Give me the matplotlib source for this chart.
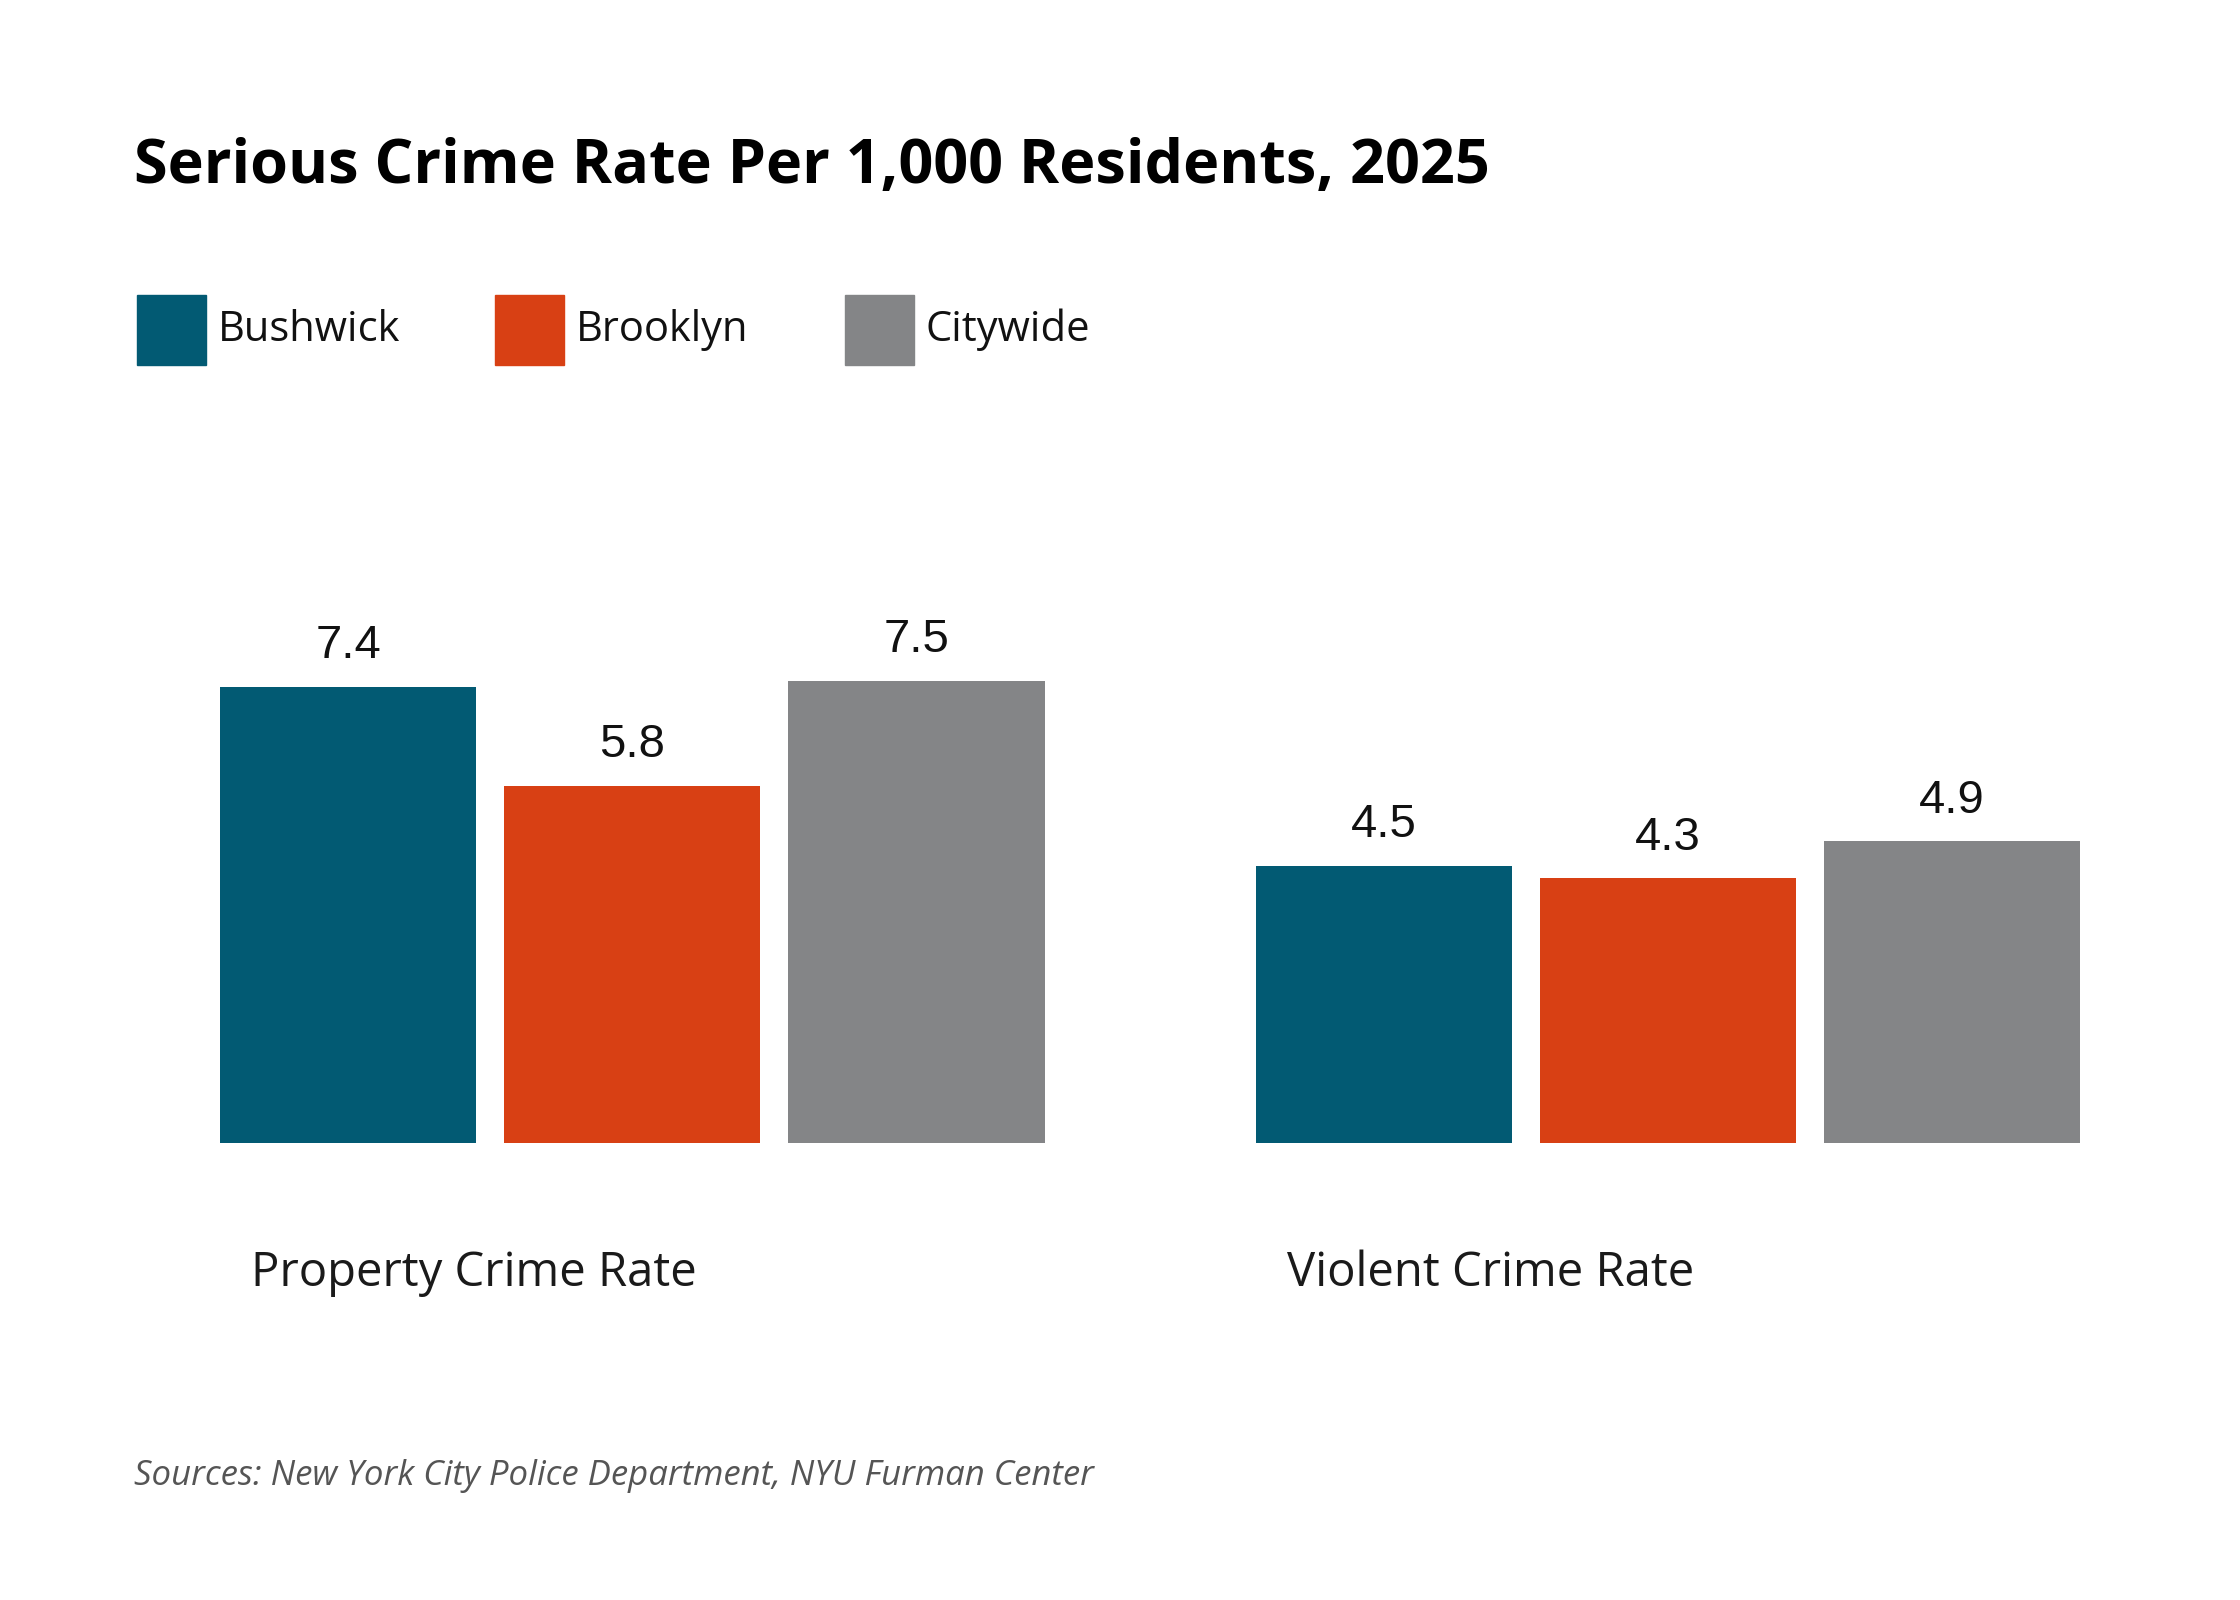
import matplotlib.pyplot as plt
from matplotlib.patches import Rectangle

groups = ["Property Crime Rate", "Violent Crime Rate"]
series = ["Bushwick", "Brooklyn", "Citywide"]
values = {
    "Bushwick": [7.4, 4.5],
    "Brooklyn": [5.8, 4.3],
    "Citywide": [7.5, 4.9],
}
labels = {
    "Bushwick": ["7.4", "4.5"],
    "Brooklyn": ["5.8", "4.3"],
    "Citywide": ["7.5", "4.9"],
}
colors = ["#025a73", "#d84014", "#848587"]

W, H = 1556.0, 1100.0
fig = plt.figure(figsize=(22.4, 16), dpi=100)
fig.patch.set_facecolor("white")

ax = fig.add_axes([153 / W, (H - 786) / H, (1445 - 153) / W, (786 - 300) / H])
step = 197.5 / 720
width = 178 / 720
for i, s in enumerate(series):
    xs = [g + (i - 1) * step for g in range(len(groups))]
    ax.bar(xs, values[s], width=width, color=colors[i])
    for x, v, lab in zip(xs, values[s], labels[s]):
        ax.text(x, v + 0.3, lab, ha="center", va="bottom", fontsize=34,
                family="Liberation Sans", color="#111111")
ax.set_xlim(-0.398, 1.398)
ax.set_ylim(0, (786 - 300) / 42.4)
ax.axis("off")

for g, name in enumerate(groups):
    ax.text(g - step - width / 2 + 0.03, -2.1, name, ha="left", va="center",
            fontsize=34, family="Open Sans", color="#1a1a1a")

fig.text(93 / W, 1 - 115 / H, "Serious Crime Rate Per 1,000 Residents, 2025",
         fontsize=44, fontweight="bold", family="Open Sans", va="center", ha="left")

leg_x = [95, 344, 587]
for i, s in enumerate(series):
    fig.patches.append(Rectangle((leg_x[i] / W, 1 - 251 / H), 48 / W, 48 / H,
                                 transform=fig.transFigure, color=colors[i]))
    fig.text((leg_x[i] + 56) / W, 1 - 227 / H, s, fontsize=30, family="Open Sans",
             va="center", ha="left", color="#111111")

fig.text(93 / W, 1 - 1015 / H, "Sources: New York City Police Department, NYU Furman Center",
         fontsize=25, style="italic", family="Open Sans", color="#555555",
         va="center", ha="left")

fig.savefig("out.png", dpi=100, facecolor="white")
